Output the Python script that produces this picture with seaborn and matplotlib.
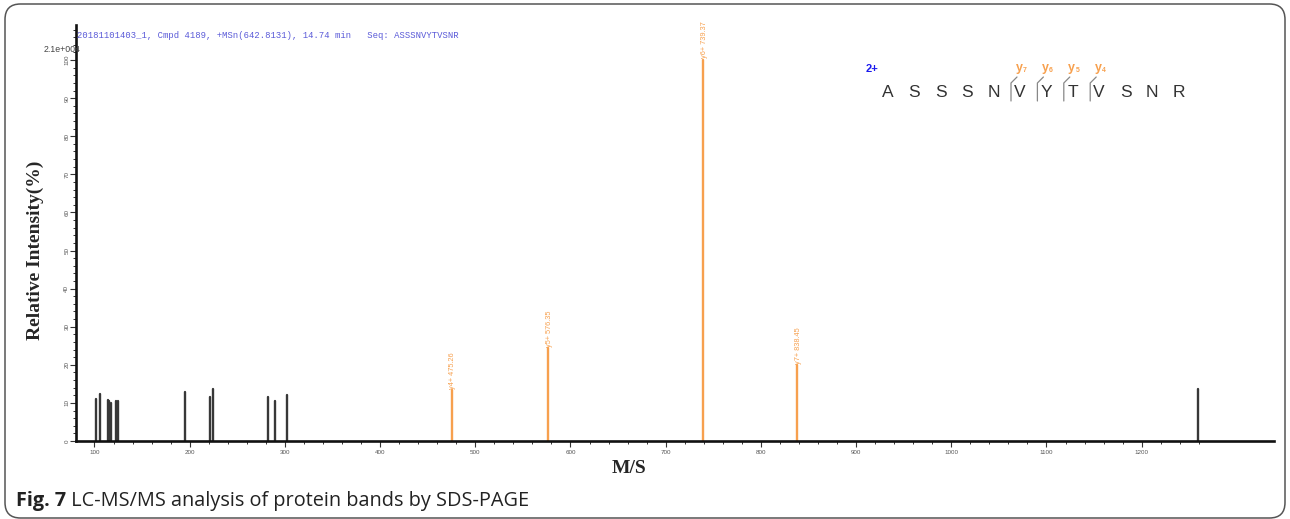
import matplotlib
matplotlib.use('Agg')
import matplotlib.pyplot as plt
import seaborn as sns
import pandas as pd
import numpy as np
from matplotlib.patches import FancyBboxPatch
from matplotlib.lines import Line2D
from matplotlib.ticker import MultipleLocator, FixedLocator

# unannotated peaks (m/z, relative intensity %)
other_mz = [101.6, 105.8, 113.9, 115.5, 117.3, 122.6, 124.4, 195.0, 221.5, 224.1,
            282.4, 289.5, 302.1, 1259.6]
other_int = [10.9, 12.3, 10.8, 10.4, 10.1, 10.6, 10.4, 12.9, 11.5, 13.6,
             11.5, 10.6, 12.0, 13.6]

# matched y ions
ion_names = ['y4+', 'y5+', 'y6+', 'y7+']
ion_mz = [475.26, 576.35, 739.37, 838.45]
ion_int = [13.3, 24.3, 100.0, 19.9]

sequence = 'ASSSNVYTVSNR'
charge = '2+'
header = '20181101403_1, Cmpd 4189, +MSn(642.8131), 14.74 min   Seq: ASSSNVYTVSNR'
caption_bold = 'Fig. 7'
caption_rest = ' LC-MS/MS analysis of protein bands by SDS-PAGE'

ORANGE = '#F7A04E'
DARK = '#383838'

rows = []
for i, (m, h) in enumerate(zip(other_mz, other_int)):
    rows += [dict(mz=m, inten=0, peak=f'o{i}', kind='other'),
             dict(mz=m, inten=h, peak=f'o{i}', kind='other')]
for i, (m, h) in enumerate(zip(ion_mz, ion_int)):
    rows += [dict(mz=m, inten=0, peak=f'y{i}', kind='ion'),
             dict(mz=m, inten=h, peak=f'y{i}', kind='ion')]
df = pd.DataFrame(rows)

sns.set_style('ticks')
plt.rcParams['font.family'] = ['Liberation Sans', 'DejaVu Sans']

W, H = 1290, 519
fig = plt.figure(figsize=(W / 100, H / 100), dpi=100)
fx = lambda px: px / W
fy = lambda py: 1 - py / H

ax = fig.add_axes([fx(76), fy(441), (1274 - 76) / W, (441 - 25) / H])
sns.lineplot(data=df, x='mz', y='inten', units='peak', estimator=None, hue='kind',
             palette={'other': DARK, 'ion': ORANGE}, sort=False, legend=False,
             linewidth=1.7, ax=ax)
ax.set_xlim(80.6, 1339)
ax.set_ylim(0, 109.2)

sns.despine(ax=ax)
for s in ['left', 'bottom']:
    ax.spines[s].set_linewidth(1.9)
    ax.spines[s].set_color('#111111')

ax.xaxis.set_major_locator(FixedLocator(np.arange(100, 1201, 100)))
ax.xaxis.set_minor_locator(FixedLocator([v for v in np.arange(80, 1261, 20) if v % 100]))
ax.yaxis.set_major_locator(MultipleLocator(10))
ax.yaxis.set_minor_locator(MultipleLocator(2))
ax.set_ylim(0, 109.2)
ax.tick_params(axis='both', which='major', length=4, width=0.8, color='#333333',
               labelsize=4.5, labelcolor='#555555')
ax.tick_params(axis='both', which='minor', length=2.5, width=0.7, color='#333333')
ax.tick_params(axis='x', which='major', pad=2.5)
ax.tick_params(axis='y', which='major', pad=0.8)
for lab in ax.get_yticklabels():
    lab.set_rotation(90)
    lab.set_va('center')

ax.set_xlabel('M/S', fontsize=14, fontweight='bold', family='Liberation Serif')
ax.xaxis.set_label_coords(0.4616, -0.065)
ax.xaxis.label.set_va('center')
ax.set_ylabel('Relative Intensity(%)', fontsize=14, fontweight='bold', family='Liberation Serif')
ax.yaxis.set_label_coords(-0.0342, 0.459)
ax.yaxis.label.set_va('center')

# peak labels
for name, m, h in zip(ion_names, ion_mz, ion_int):
    ax.annotate(f'{name} {m:.2f}', xy=(m, h), xytext=(0.8, 1.2), textcoords='offset points',
                rotation=90, ha='center', va='bottom', fontsize=5.3, color=ORANGE,
                annotation_clip=False)

# header texts
fig.text(fx(77), fy(35), header, family='Liberation Mono', fontsize=6.4,
         color='#5a5ad8', va='center', ha='left')
fig.text(fx(80), fy(49), '2.1e+004', fontsize=6.3, color='#444444', va='center', ha='right')

# sequence with fragment marks
x0, step, ys = 888, 26.4, 92
for k, ch in enumerate(sequence):
    fig.text(fx(x0 + k * step), fy(ys), ch, fontsize=12.5, color='#333333',
             ha='center', va='center')
fig.text(fx(872), fy(69), charge, fontsize=8, fontweight='bold', color='#1a1aee',
         ha='center', va='center')
for name in ion_names:
    n = int(name[1:-1])
    k = len(sequence) - n
    xb = x0 + k * step - 9
    fig.add_artist(Line2D([fx(xb), fx(xb), fx(xb + 6)], [fy(101), fy(83), fy(77)],
                          color='#888888', lw=0.9))
    xl = x0 + k * step - 1
    fig.text(fx(xl), fy(68), 'y', fontsize=9, fontweight='bold', color=ORANGE,
             ha='center', va='center')
    fig.text(fx(xl + 5.5), fy(70), str(n), fontsize=5, fontweight='bold', color=ORANGE,
             ha='center', va='center')

# card border and caption
fig.add_artist(FancyBboxPatch((fx(5), fy(518)), fx(1285) - fx(5), fy(4) - fy(518),
                              boxstyle='round,pad=0,rounding_size=0.012',
                              transform=fig.transFigure, fill=False,
                              edgecolor='#555555', lw=1.1, mutation_aspect=W / H))
t1 = fig.text(fx(16), fy(506), caption_bold, family='Open Sans', fontweight='bold',
              fontsize=14.3, color='#222222', va='baseline')
fig.canvas.draw()
bb = t1.get_window_extent()
fig.text(bb.x1 / W, fy(506), caption_rest, family='Open Sans', fontsize=14.3,
         color='#222222', va='baseline')

plt.savefig('out.png', dpi=100)
